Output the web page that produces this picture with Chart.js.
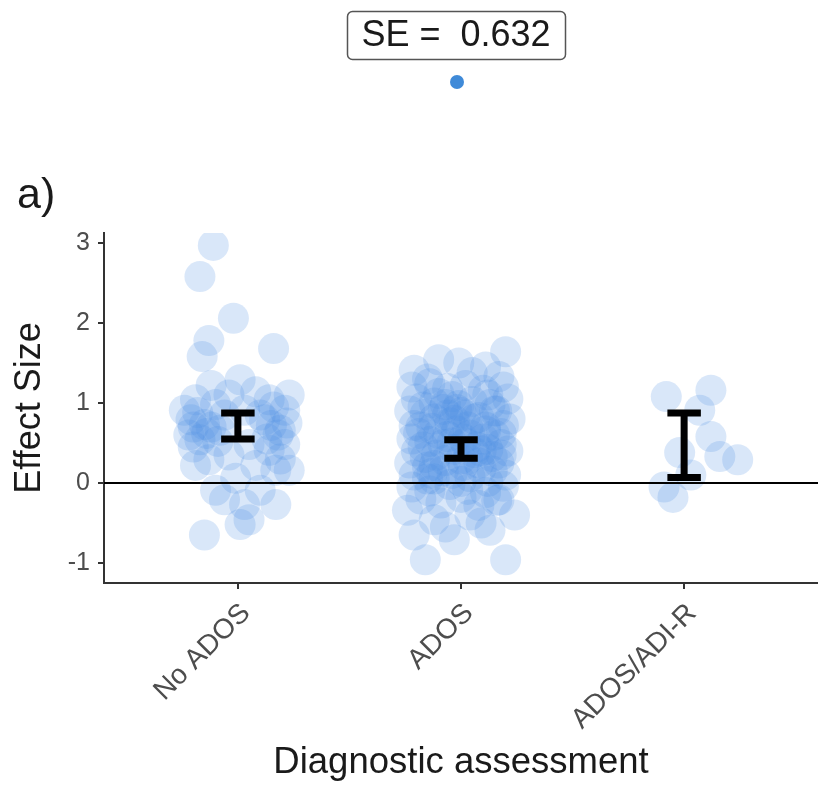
<!DOCTYPE html>
<html>
<head>
<meta charset="utf-8">
<script src="https://cdn.jsdelivr.net/npm/chart.js@4/dist/chart.umd.min.js"></script>
<style>
  html, body { margin: 0; padding: 0; background: #ffffff; }
  canvas { display: block; }
</style>
</head>
<body>
<canvas id="chart" width="818" height="787"></canvas>
<script>
// ---- data ----
const categories = ['No ADOS', 'ADOS', 'ADOS/ADI-R'];
const yTicks = [-1, 0, 1, 2, 3];
const seText = 'SE =  0.632';
const panelTag = 'a)';

// jittered study effect sizes: x = category position (1..3) with jitter, y = effect size
const noAdosX = [0.89, 0.83, 0.98, 1.16, 0.84, 0.87, 0.88, 0.81, 0.79, 0.83, 0.90, 0.96, 1.08, 1.14, 1.21, 1.19,
                 1.12, 1.03, 0.92, 0.85, 0.78, 1.21, 1.14, 1.05, 0.96, 0.87, 0.81, 1.08, 1.17, 0.99, 0.90, 1.10,
                 1.03, 1.05, 1.01, 0.85, 0.94, 1.17, 1.23, 1.01, 1.10, 0.94, 0.76, 1.23, 0.80, 1.18, 0.86, 1.15,
                 0.82, 0.88, 0.80, 0.91, 1.16, 1.22, 1.13, 1.19];
const noAdosY = [2.97, 2.58, 2.06, 1.68, 1.58, 1.78, 1.22, 1.04, 0.79, 0.54, 0.98, 1.10, 1.14, 1.04, 0.91, 0.66,
                 0.79, 0.91, 0.66, 0.73, 0.60, 0.48, 0.41, 0.48, 0.35, 0.29, 0.22, 0.22, 0.16, 0.06, -0.09, -0.09,
                 -0.27, -0.46, -0.52, -0.65, -0.21, -0.27, 1.10, 1.29, 0.85, 0.85, 0.91, 0.16, 0.70, 0.60, 0.62, 0.72,
                 0.88, 0.70, 0.45, 0.52, 0.95, 0.75, 0.55, 0.30];

const adosX = [1.90, 2.20, 2.11, 1.79, 2.17, 1.99, 1.85, 2.05,
               1.78, 1.86, 1.94, 2.02, 2.10, 2.19,
               1.80, 1.88, 1.96, 2.05, 2.13, 2.21,
               1.77, 1.84, 1.92, 2.00, 2.08, 2.16, 2.22,
               1.79, 1.87, 1.95, 2.03, 2.11, 2.19,
               1.78, 1.86, 1.94, 2.02, 2.10, 2.18,
               1.80, 1.89, 1.97, 2.06, 2.14, 2.21,
               1.77, 1.85, 1.93, 2.01, 2.09, 2.17,
               1.79, 1.88, 1.96, 2.04, 2.12, 2.20,
               1.78, 1.86, 1.95, 2.03, 2.11, 2.19,
               1.82, 1.91, 2.00, 2.08, 2.16,
               1.83, 1.99, 2.15, 1.90, 2.07, 1.83, 2.00, 1.92, 2.14, 1.98,
               2.06, 1.88, 2.12, 1.90, 1.96, 2.04, 2.00, 1.84, 2.18, 1.94,
               1.81, 1.97, 2.09, 2.15, 1.87, 2.03, 1.93, 2.11, 1.85, 2.01,
               1.82, 1.92, 2.02, 2.12, 1.88, 1.98, 2.08, 2.18,
               1.84, 2.20, 1.79, 1.97, 2.13, 2.24, 1.88, 2.04, 1.76, 2.17, 1.93, 2.09];
const adosY = [1.54, 1.64, 1.45, 1.41, 1.33, 1.50, 1.30, 1.38,
               1.20, 1.24, 1.18, 1.22, 1.16, 1.20,
               1.05, 1.00, 1.08, 1.02, 0.98, 1.05,
               0.90, 0.86, 0.92, 0.88, 0.82, 0.90, 0.80,
               0.72, 0.68, 0.75, 0.70, 0.65, 0.72,
               0.55, 0.52, 0.58, 0.50, 0.55, 0.48,
               0.40, 0.35, 0.42, 0.38, 0.33, 0.40,
               0.25, 0.20, 0.28, 0.22, 0.18, 0.25,
               0.10, 0.05, 0.12, 0.08, 0.02, 0.10,
               -0.05, -0.10, -0.02, -0.08, -0.12, -0.04,
               -0.20, -0.25, -0.18, -0.28, -0.22,
               0.95, 0.97, 0.60, 0.62, 0.45, 0.45, 0.30, 0.15, 0.15, 0.65,
               0.80, 0.80, 1.10, 1.12, 0.50, 0.60, 0.02, 0.32, 0.35, 0.85,
               0.62, 0.78, 0.40, 0.90, 0.12, 0.30, 0.98, 0.70, 0.05, 0.55,
               0.70, 0.48, 0.85, 0.42, 0.22, 0.92, 0.25, 0.62,
               -0.96, -0.96, -0.65, -0.71, -0.59, -0.40, -0.46, -0.40, -0.34, -0.21, -0.55, -0.50];

const adiX = [2.92, 3.12, 3.07, 3.12, 3.16, 3.24, 2.98, 2.95, 2.91, 3.03];
const adiY = [1.08, 1.16, 0.91, 0.58, 0.33, 0.29, 0.38, -0.18, -0.05, 0.10];

// pooled estimate confidence limits per category
const ciLow  = [0.55, 0.31, 0.07];
const ciHigh = [0.875, 0.54, 0.875];

// ---- helpers ----
const toPoints = (xs, ys) => xs.map((x, i) => ({ x: x, y: ys[i] }));
const FONT = '"Liberation Sans", Arial, Helvetica, sans-serif';
const pointFill = 'rgba(74, 144, 226, 0.21)';

const overlay = {
  id: 'overlay',
  afterDatasetsDraw(chart) {
    const { ctx, chartArea, scales } = chart;
    const xs = scales.x, ys = scales.y;
    ctx.save();
    // reference line at zero
    const y0 = ys.getPixelForValue(0);
    ctx.strokeStyle = '#000';
    ctx.lineWidth = 2;
    ctx.beginPath();
    ctx.moveTo(chartArea.left, y0);
    ctx.lineTo(chartArea.right, y0);
    ctx.stroke();
    // confidence interval bars
    ctx.lineWidth = 7;
    ctx.lineCap = 'butt';
    const capHalf = 0.075;
    categories.forEach((c, i) => {
      const pos = i + 1;
      const xc = xs.getPixelForValue(pos);
      const xl = xs.getPixelForValue(pos - capHalf);
      const xr = xs.getPixelForValue(pos + capHalf);
      const yl = ys.getPixelForValue(ciLow[i]);
      const yh = ys.getPixelForValue(ciHigh[i]);
      ctx.beginPath();
      ctx.moveTo(xc, yl); ctx.lineTo(xc, yh);
      ctx.moveTo(xl, yl); ctx.lineTo(xr, yl);
      ctx.moveTo(xl, yh); ctx.lineTo(xr, yh);
      ctx.stroke();
    });
    ctx.restore();
  },
  afterDraw(chart) {
    const ctx = chart.ctx;
    ctx.save();
    // SE label box
    ctx.fillStyle = '#ffffff';
    ctx.strokeStyle = '#555555';
    ctx.lineWidth = 1.5;
    ctx.beginPath();
    ctx.roundRect(347.5, 11.5, 218, 48, 5);
    ctx.fill();
    ctx.stroke();
    ctx.fillStyle = '#1a1a1a';
    ctx.font = '36px ' + FONT;
    ctx.textAlign = 'center';
    ctx.textBaseline = 'middle';
    ctx.fillText(seText, 456, 36);
    // key dot
    ctx.fillStyle = '#3f8ad8';
    ctx.beginPath();
    ctx.arc(457, 82, 7, 0, Math.PI * 2);
    ctx.fill();
    // panel tag
    ctx.fillStyle = '#1a1a1a';
    ctx.font = '43px ' + FONT;
    ctx.textAlign = 'left';
    ctx.textBaseline = 'alphabetic';
    ctx.fillText(panelTag, 17, 208);
    ctx.restore();
  }
};

new Chart(document.getElementById('chart'), {
  type: 'scatter',
  data: {
    datasets: [
      { label: categories[0], data: toPoints(noAdosX, noAdosY) },
      { label: categories[1], data: toPoints(adosX, adosY) },
      { label: categories[2], data: toPoints(adiX, adiY) }
    ].map(d => Object.assign(d, {
      backgroundColor: pointFill,
      borderWidth: 0,
      pointRadius: 15.5,
      pointHoverRadius: 15.5
    }))
  },
  options: {
    responsive: false,
    devicePixelRatio: 1,
    animation: false,
    events: [],
    layout: { autoPadding: false, padding: { top: 233, left: 0, right: 0, bottom: 0 } },
    plugins: { legend: { display: false }, tooltip: { enabled: false } },
    scales: {
      x: {
        type: 'linear',
        min: 0.4,
        max: 3.6,
        afterBuildTicks: s => { s.ticks = [1, 2, 3].map(v => ({ value: v })); },
        afterFit: s => { s.height = 204; s.paddingLeft = 0; s.paddingRight = 0; },
        grid: { display: true, drawOnChartArea: false, drawTicks: true, tickLength: 6, color: '#333333', lineWidth: 2 },
        border: { display: true, color: '#333333', width: 2 },
        ticks: {
          autoSkip: false,
          minRotation: 45,
          maxRotation: 45,
          padding: 8,
          labelOffset: 8,
          color: '#4d4d4d',
          font: { family: FONT, size: 28 },
          callback: v => categories[v - 1]
        },
        title: {
          display: true,
          text: 'Diagnostic assessment',
          color: '#1a1a1a',
          font: { family: FONT, size: 36.5 },
          padding: { top: 0, bottom: 2 }
        }
      },
      y: {
        type: 'linear',
        min: -1.25,
        max: 3.125,
        afterBuildTicks: s => { s.ticks = yTicks.map(v => ({ value: v })); },
        afterFit: s => { s.width = 104; },
        grid: { display: true, drawOnChartArea: false, drawTicks: true, tickLength: 6, color: '#333333', lineWidth: 2 },
        border: { display: true, color: '#333333', width: 2 },
        ticks: {
          padding: 8,
          color: '#4d4d4d',
          font: { family: FONT, size: 25 },
          callback: v => String(v)
        },
        title: {
          display: true,
          text: 'Effect Size',
          color: '#1a1a1a',
          font: { family: FONT, size: 36 },
          padding: { top: 8, bottom: 0 }
        }
      }
    }
  },
  plugins: [overlay]
});
</script>
</body>
</html>
